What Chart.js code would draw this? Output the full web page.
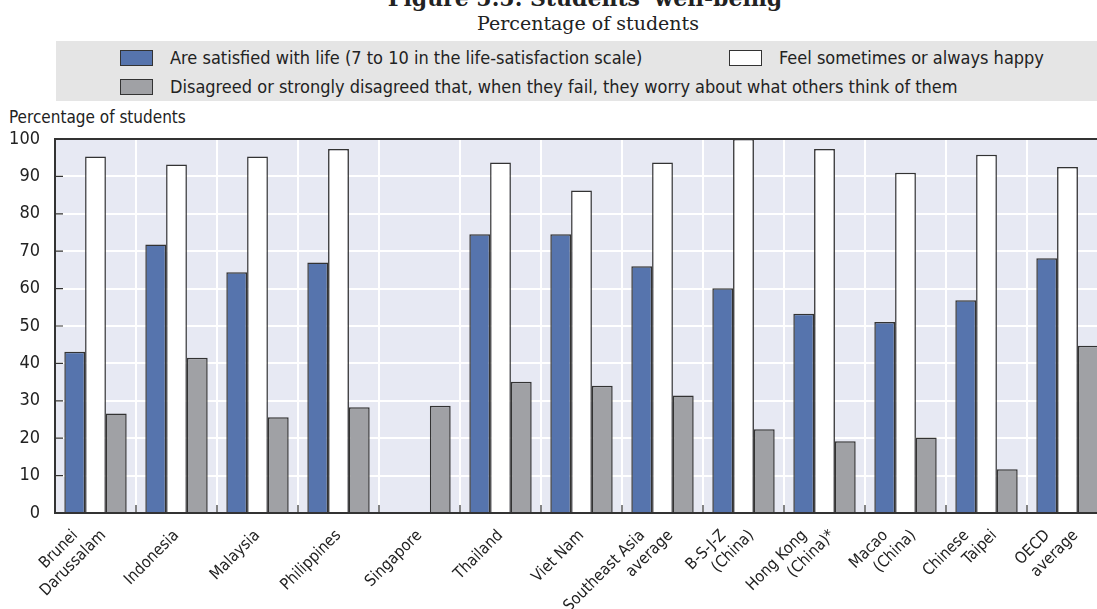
<!DOCTYPE html>
<html>
<head>
<meta charset="utf-8">
<script src="https://cdn.jsdelivr.net/npm/chart.js@4.4.1/dist/chart.umd.min.js"></script>
<style>
  html, body { margin:0; padding:0; background:#fff; overflow:hidden; width:1097px; height:609px; }
  body { position:relative; }
  .narrow { font-family:"Liberation Sans Narrow","DejaVu Sans Condensed","Roboto Condensed",sans-serif; color:#222; }
  #title    { position:absolute; left:0; width:1170px; top:-15px; text-align:center; font:bold 22px "DejaVu Serif",serif; color:#222; white-space:nowrap; }
  #subtitle { position:absolute; left:0; width:1176px; top:12px; text-align:center; font:19px "DejaVu Serif",serif; color:#222; white-space:nowrap; }
  #legend   { position:absolute; left:56px; top:41px; width:1041px; height:60px; background:#e5e5e5; }
  .sw   { position:absolute; width:31px; height:14px; border:1px solid #333; }
  .lbl  { position:absolute; font-size:18px; line-height:20px; white-space:nowrap; }
  #ytitle { position:absolute; left:9px; top:107px; font-size:17px; white-space:nowrap; }
  #wrap { position:absolute; left:0; top:0; width:1112px; height:609px; }
</style>
</head>
<body>
<div id="title">Figure 5.5. Students' well-being</div>
<div id="subtitle">Percentage of students</div>
<div id="legend" class="narrow"></div>
<div id="ytitle" class="narrow">Percentage of students</div>
<div id="wrap"><canvas id="chart" width="1112" height="609"></canvas></div>

<script>
/* ── DATA ── */
const categories = [
  ['Brunei', 'Darussalam'], ['Indonesia'], ['Malaysia'], ['Philippines'], ['Singapore'],
  ['Thailand'], ['Viet Nam'], ['Southeast Asia', 'average'], ['B-S-J-Z', '(China)'],
  ['Hong Kong', '(China)*'], ['Macao', '(China)'], ['Chinese', 'Taipei'], ['OECD', 'average']
];
const seriesNames = [
  'Are satisfied with life (7 to 10 in the life-satisfaction scale)',
  'Feel sometimes or always happy',
  'Disagreed or strongly disagreed that, when they fail, they worry about what others think of them'
];
const satisfied = [43.1, 71.8, 64.4, 67.0, null, 74.5, 74.5, 66.0, 60.1, 53.3, 51.1, 56.9, 68.1];
const happy     = [95.3, 93.2, 95.3, 97.3, null, 93.7, 86.2, 93.7, 100,  97.3, 91.0, 95.8, 92.5];
const notWorry  = [26.6, 41.5, 25.6, 28.3, 28.7, 35.1, 34.0, 31.4, 22.4, 19.2, 20.2, 11.7, 44.7];
const yTicks    = [0, 10, 20, 30, 40, 50, 60, 70, 80, 90, 100];

/* ── COLOURS / FONTS ── */
const colors   = ['#5674ad', '#ffffff', '#a0a1a5'];
const edge     = '#333333';
const plotBg   = '#e7e9f3';
const fontFam  = '"Liberation Sans Narrow","DejaVu Sans Condensed","Roboto Condensed",sans-serif';

/* ── HTML legend (built from the series names) ── */
const legendPos = [
  { sx: 64,  sy: 9,  tx: 114, ty: 7 },
  { sx: 673, sy: 9,  tx: 723, ty: 7 },
  { sx: 64,  sy: 38, tx: 114, ty: 36 },
];
const legend = document.getElementById('legend');
seriesNames.forEach((name, i) => {
  const p = legendPos[i];
  legend.insertAdjacentHTML('beforeend',
    `<div class="sw" style="left:${p.sx}px;top:${p.sy}px;background:${colors[i]}"></div>` +
    `<div class="lbl" style="left:${p.tx}px;top:${p.ty}px">${name}</div>`);
});

/* ── plugin: plot background, top frame, inward ticks, rotated labels ── */
const frame = {
  id: 'frame',
  beforeDraw(chart) {
    const { ctx, chartArea: a } = chart;
    ctx.save();
    ctx.fillStyle = plotBg;
    ctx.fillRect(a.left, a.top, a.right - a.left, a.bottom - a.top);
    ctx.restore();
  },
  afterDatasetsDraw(chart) {
    const { ctx, chartArea: a, scales } = chart;
    ctx.save();
    ctx.strokeStyle = edge;
    ctx.lineWidth = 2;
    ctx.beginPath();
    ctx.moveTo(a.left, a.top); ctx.lineTo(a.right, a.top);
    ctx.stroke();
    ctx.lineWidth = 1.2;
    ctx.beginPath();
    yTicks.forEach(v => {
      const y = scales.y.getPixelForValue(v);
      ctx.moveTo(a.left, y); ctx.lineTo(a.left + 8, y);
    });
    for (let i = 1; i < categories.length; i++) {
      const x = (scales.x.getPixelForValue(i - 1) + scales.x.getPixelForValue(i)) / 2;
      ctx.moveTo(x, a.bottom); ctx.lineTo(x, a.bottom - 8);
    }
    ctx.stroke();

    // x labels: each line rotated 45° about its own end, ends on one row
    ctx.fillStyle = '#222';
    ctx.font = `16px ${fontFam}`;
    ctx.textAlign = 'right';
    ctx.textBaseline = 'middle';
    categories.forEach((lines, i) => {
      const cx = scales.x.getPixelForValue(i);
      lines.forEach((t, j) => {
        ctx.save();
        ctx.translate(cx + j * 28 - (lines.length - 1) * 20, a.bottom + 20);
        ctx.rotate(-Math.PI / 4);
        ctx.fillText(t, 0, 0);
        ctx.restore();
      });
    });
    ctx.restore();
  }
};

const mkSet = (label, data, i) => ({
  label, data,
  backgroundColor: colors[i],
  borderColor: edge,
  borderWidth: 1.5,
  borderSkipped: 'bottom',
  categoryPercentage: 0.77,
  barPercentage: 1.0,
});

new Chart(document.getElementById('chart'), {
  type: 'bar',
  data: {
    labels: categories.map(l => l.join(' ')),
    datasets: [
      mkSet(seriesNames[0], satisfied, 0),
      mkSet(seriesNames[1], happy, 1),
      mkSet(seriesNames[2], notWorry, 2),
    ],
  },
  options: {
    responsive: false,
    animation: false,
    layout: { padding: { top: 139, right: 4, left: 0, bottom: 0 } },
    plugins: { legend: { display: false }, tooltip: { enabled: false } },
    scales: {
      x: {
        offset: true,
        grid: { color: '#ffffff', lineWidth: 2, drawTicks: false, offset: true },
        border: { display: true, color: edge, width: 2 },
        ticks: { display: false },
        afterFit: s => { s.height = 96; },
      },
      y: {
        min: 0, max: 100,
        afterBuildTicks: s => { s.ticks = yTicks.map(v => ({ value: v })); },
        grid: { color: '#ffffff', lineWidth: 2, drawTicks: false },
        border: { display: true, color: edge, width: 2 },
        ticks: { color: '#222', padding: 15, font: { family: fontFam, size: 18 } },
        afterFit: s => { s.width = 55; },
      },
    },
  },
  plugins: [frame],
});
</script>
</body>
</html>
